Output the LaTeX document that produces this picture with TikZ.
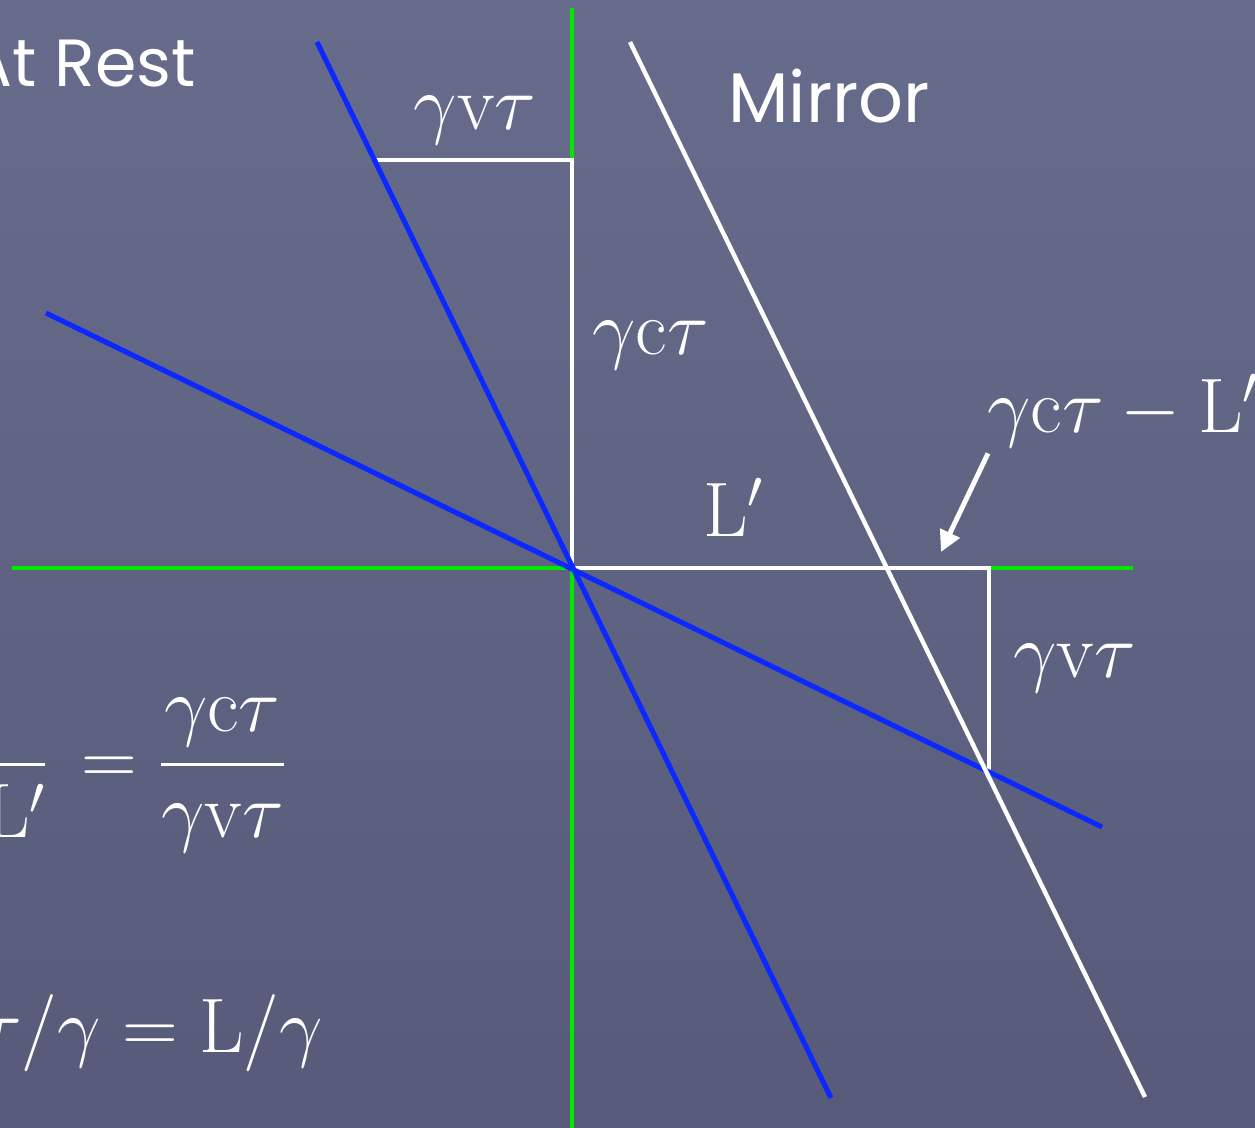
\RequirePackage{fix-cm}
\documentclass[tikz,border=0pt]{standalone}
\usepackage{amsmath,amssymb}
\usepackage{fontspec}
\newfontfamily\chalkfont{Poppins}
\usepackage{tikz}
\usetikzlibrary{arrows.meta,positioning,calc}

\definecolor{slidetop}{RGB}{103,108,140}
\definecolor{slidebottom}{RGB}{87,91,121}
\definecolor{rayblue}{RGB}{12,40,255}
\definecolor{axisgreen}{RGB}{0,232,0}

\begin{document}
\begin{tikzpicture}[
    x=0.02cm, y=-0.02cm,
    axis/.style={draw=axisgreen, line width=2.8pt},
    ray/.style={draw=rayblue, line width=2.9pt},
    leg/.style={draw=white, line width=2.8pt},
    mirrorline/.style={draw=white, line width=2.5pt},
    mathlbl/.style={text=white, inner sep=0pt, font=\fontsize{44}{48}\selectfont},
    title/.style={text=white, inner sep=0pt, font=\chalkfont\fontsize{38}{42}\selectfont},
    arrow/.style={-{Triangle[length=0.42cm,width=0.42cm]}, draw=white, line width=2.8pt}
]
    \useasboundingbox (0,0) rectangle (1255,1128);
    \clip (0,0) rectangle (1255,1128);
    \shade[top color=slidetop, bottom color=slidebottom] (0,0) rectangle (1255,1128);

    \coordinate (O) at (572,568);
    \coordinate (ytop) at (572,8);
    \coordinate (ybot) at (572,1128);
    \coordinate (xleft) at (12,568);
    \coordinate (xright) at (1133,568);
    \coordinate (ray1a) at (317,42);
    \coordinate (ray1b) at (831,1098);
    \coordinate (ray2a) at (46,313);
    \coordinate (ray2b) at (1102,827);
    \coordinate (mirtop) at (630,42);
    \coordinate (mirbot) at (1145,1097);
    \coordinate (emit) at (373,160);
    \coordinate (emitaxis) at (572,160);
    \coordinate (hit) at (989,568);
    \coordinate (hitray) at (989,770);
    \coordinate (tip) at (941,552);

    \draw[axis] (ytop) -- (ybot);
    \draw[axis] (xleft) -- (xright);
    \draw[leg] (emit) -- (emitaxis) -- (O);
    \draw[leg] (O) -- (hit) -- (hitray);
    \draw[ray] (ray1a) -- (ray1b);
    \draw[ray] (ray2a) -- (ray2b);
    \draw[mirrorline] (mirtop) -- (mirbot);

    \node[title, anchor=base east] (rest) at (196,87) {At Rest};
    \node[title, anchor=base west, font=\chalkfont\fontsize{40}{44}\selectfont] (mirror) at (728,123) {Mirror};
    \node[mathlbl, anchor=base] (vtop) at (475,130) {$\gamma\mathrm{v}\tau$};
    \node[mathlbl, anchor=base west] (ctau) at (592,355) {$\gamma\mathrm{c}\tau$};
    \node[mathlbl, anchor=base west] (lprime) at (703,537) {$\mathrm{L}'$};
    \node[mathlbl, anchor=base west] (gap) at (987,433) {$\gamma\mathrm{c}\tau-\mathrm{L}'$};
    \node[mathlbl, anchor=base west] (vright) at (1013,677) {$\gamma\mathrm{v}\tau$};
    \node[mathlbl, anchor=base east] (ratio) at (286,784) {$\dfrac{}{\mathrm{L}'}\,=\dfrac{\gamma\mathrm{c}\tau}{\gamma\mathrm{v}\tau}$};
    \node[mathlbl, anchor=base east] (result) at (323,1052) {$\tau/\gamma=\mathrm{L}/\gamma$};

    \draw[arrow] ($(gap.south west)+(1,5)$) -- (tip);
\end{tikzpicture}
\end{document}
